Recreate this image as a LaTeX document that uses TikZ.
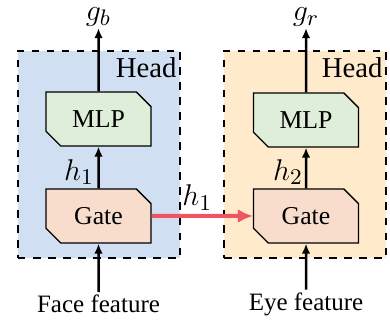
\documentclass[tikz,border=0pt]{standalone}
\usepackage{fontspec}
\setmainfont{Liberation Serif}
\usetikzlibrary{arrows.meta,shapes.misc}
\definecolor{headblue}{HTML}{D0E0F2}
\definecolor{headorange}{HTML}{FFEACB}
\definecolor{mlpgreen}{HTML}{DEEED9}
\definecolor{gatepink}{HTML}{F9DDCC}
\definecolor{linkred}{HTML}{EE5560}
\tikzset{
  headbox/.style={draw, dashed, line width=0.5pt, minimum width=64.8pt, minimum height=82.8pt},
  block/.style={draw, line width=0.5pt, chamfered rectangle, chamfered rectangle corners={north east,south west},
    chamfered rectangle xsep=2.8pt, minimum width=42pt, minimum height=21.6pt, inner sep=0pt,
    font=\fontsize{10.3}{12}\selectfont},
  flow/.style={-{Latex[length=4pt,width=3.4pt]}, line width=1pt},
  var/.style={inner sep=0.5pt, font=\fontsize{12.5}{14}\selectfont},
}
\begin{document}
\begin{tikzpicture}[x=0.4pt, y=-0.4pt]
	%%%%% START %%%%%
	\useasboundingbox (0,0) rectangle (390,324);
	
	% face branch
	\node[headbox, fill=headblue] (faceHead) at (99,154.5) {};
	\node[font=\fontsize{11.5}{13}\selectfont, anchor=north east, inner sep=0pt] (faceHeadLbl) at (177,57) {Head};
	\node[block, fill=mlpgreen] (faceMLP) at (98.5,119) {MLP};
	\node[block, fill=gatepink] (faceGate) at (98.5,216) {Gate};
	\node[var] (gb) at (98.5,17) {$g_b$};
	\node[inner sep=1pt] (faceIn) at (98.5,304) {Face feature};
	\node[var] (hOne) at (79,172) {$h_1$};
	
	\draw[flow] (faceIn) -- (faceGate);
	\draw[flow] (faceGate) -- (faceMLP);
	\draw[flow] (faceMLP) -- (gb);
	
	% eye branch
	\node[headbox, fill=headorange] (eyeHead) at (305,154.5) {};
	\node[font=\fontsize{11.5}{13}\selectfont, anchor=north east, inner sep=0pt] (eyeHeadLbl) at (383,57) {Head};
	\node[block, fill=mlpgreen] (eyeMLP) at (306,120) {MLP};
	\node[block, fill=gatepink] (eyeGate) at (306,216) {Gate};
	\node[var] (gr) at (306,17) {$g_r$};
	\node[inner sep=1pt] (eyeIn) at (306,304) {Eye feature};
	\node[var] (hTwo) at (288,172) {$h_2$};
	
	\draw[flow] (eyeIn) -- (eyeGate);
	\draw[flow] (eyeGate) -- (eyeMLP);
	\draw[flow] (eyeMLP) -- (gr);
	
	% link
	\draw[-{Latex[length=6pt,width=5.5pt]}, line width=1.6pt, linkred] (faceGate) -- node[var, above, black, yshift=1pt, xshift=-2pt] (hLink) {$h_1$} (eyeGate);
	
	%%%%% END %%%%%
\end{tikzpicture}
\end{document}
